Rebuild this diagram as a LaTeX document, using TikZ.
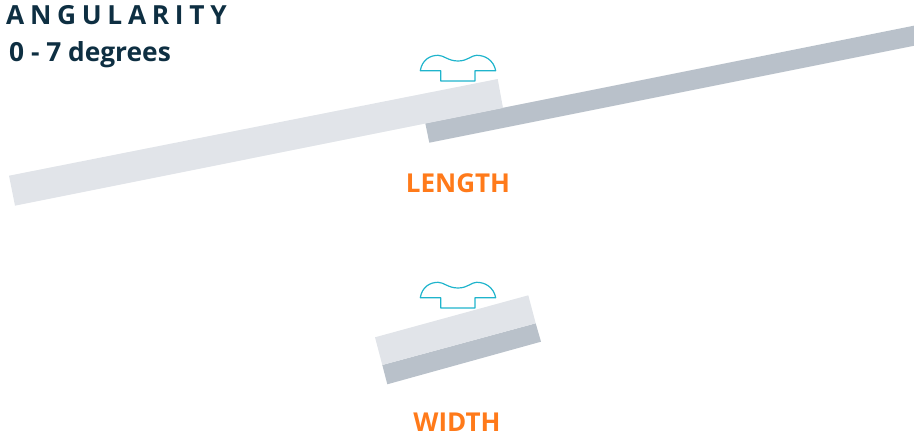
\documentclass[tikz,border=0pt]{standalone}
\usepackage{fontspec}
\setmainfont{Open Sans}
\definecolor{lightbar}{HTML}{E1E4E9}
\definecolor{darkbar}{HTML}{B9C1CA}
\definecolor{teal}{HTML}{1FB4CC}
\definecolor{navy}{HTML}{0E2F42}
\definecolor{orange}{HTML}{FF7A1A}
\tikzset{
  lightpart/.style={fill=lightbar,draw=none},
  darkpart/.style={fill=darkbar,draw=none},
  profile/.style={draw=teal,line width=1.2pt,line join=round,fill=none},
  heading/.style={anchor=base west,inner sep=0pt,text=navy,font=\fontsize{26.3}{30}\selectfont\bfseries},
  caption/.style={anchor=base,inner sep=0pt,text=orange,font=\fontsize{26}{30}\selectfont\bfseries}
}
\begin{document}
\begin{tikzpicture}[x=1pt,y=-1pt]
\useasboundingbox (0,0) rectangle (914,438);
% long bars
\fill[darkpart] (425.3,123.3) -- (914,25.7) -- (914,45.8) -- (429.3,142.7) -- cycle;
\fill[lightpart] (9,175.7) -- (497.7,79) -- (503,108) -- (15,205.7) -- cycle;
% short bars
\fill[darkpart] (382.3,365) -- (535.7,323.3) -- (541,341.7) -- (387.3,384.3) -- cycle;
\fill[lightpart] (375,337.3) -- (528.3,295.3) -- (535.7,323.3) -- (382.3,365) -- cycle;
% profiles
\foreach \dy in {0,227}{
\begin{scope}[yshift=-\dy pt]
\draw[profile] (440.7,81) -- (475,81) -- (475,70.7) -- (495.7,70.7)
  .. controls (493.5,60) and (485,55.3) .. (476.7,55.3)
  .. controls (471,55.3) and (468,61) .. (458,61)
  .. controls (448,61) and (444,55.3) .. (438,55.3)
  .. controls (430,55.3) and (422,60) .. (420.3,70.7)
  -- (440.7,70.7) -- cycle;
\end{scope}
}
% labels
\node[heading] (title) at (6,25) {\addfontfeature{LetterSpace=21.7}ANGULARITY};
\node[heading] (range) at (9,62) {0 - 7 degrees};
\node[caption] (length) at (458,193) {LENGTH};
\node[caption] (width) at (457,432) {WIDTH};
\end{tikzpicture}
\end{document}
